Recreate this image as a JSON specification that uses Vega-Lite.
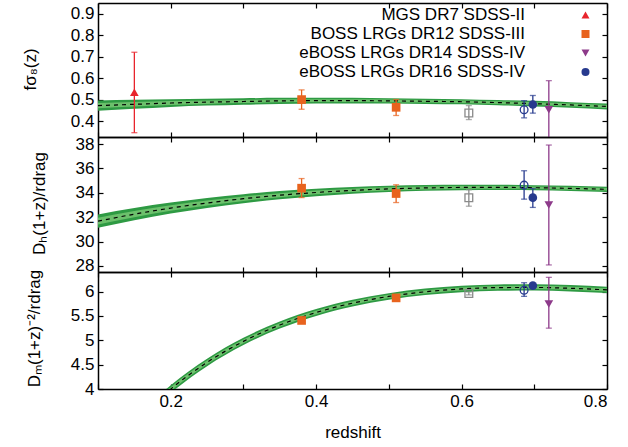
{
  "$schema": "https://vega.github.io/schema/vega-lite/v6.json",
  "autosize": {"type": "pad"},
  "padding": {"left": 21, "top": 2, "right": 5, "bottom": 5},
  "background": "white",
  "bounds": "flush",
  "spacing": 0,
  "config": {
    "font": "Liberation Sans",
    "view": {"stroke": null},
    "axis": {"grid": false, "domainColor": "black", "domainWidth": 1.5, "tickColor": "black", "tickWidth": 1.2, "tickSize": -5,
      "labelFontSize": 17, "labelColor": "black", "labelFont": "Liberation Sans", "titleFontSize": 17, "titleFontWeight": "normal", "titleColor": "black", "titleFont": "Liberation Sans", "labelPadding": 9}
  },
  "resolve": {"scale": {"color": "independent", "shape": "independent", "x": "independent", "y": "independent"}, "legend": {"color": "independent", "shape": "independent"}},
  "datasets": {
    "c1": [
      {"z": 0.10, "mid": 0.473, "lo2": 0.449, "hi2": 0.497, "lo1": 0.461, "hi1": 0.485},
      {"z": 0.15, "mid": 0.479, "lo2": 0.458, "hi2": 0.500, "lo1": 0.4685, "hi1": 0.4895},
      {"z": 0.20, "mid": 0.485, "lo2": 0.467, "hi2": 0.503, "lo1": 0.476, "hi1": 0.494},
      {"z": 0.25, "mid": 0.489, "lo2": 0.473, "hi2": 0.505, "lo1": 0.481, "hi1": 0.497},
      {"z": 0.30, "mid": 0.492, "lo2": 0.477, "hi2": 0.507, "lo1": 0.4845, "hi1": 0.4995},
      {"z": 0.35, "mid": 0.495, "lo2": 0.481, "hi2": 0.509, "lo1": 0.488, "hi1": 0.502},
      {"z": 0.40, "mid": 0.496, "lo2": 0.483, "hi2": 0.509, "lo1": 0.4895, "hi1": 0.5025},
      {"z": 0.45, "mid": 0.496, "lo2": 0.483, "hi2": 0.509, "lo1": 0.4895, "hi1": 0.5025},
      {"z": 0.50, "mid": 0.495, "lo2": 0.483, "hi2": 0.507, "lo1": 0.489, "hi1": 0.501},
      {"z": 0.55, "mid": 0.493, "lo2": 0.481, "hi2": 0.505, "lo1": 0.487, "hi1": 0.499},
      {"z": 0.60, "mid": 0.491, "lo2": 0.479, "hi2": 0.503, "lo1": 0.485, "hi1": 0.497},
      {"z": 0.65, "mid": 0.487, "lo2": 0.475, "hi2": 0.499, "lo1": 0.481, "hi1": 0.493},
      {"z": 0.70, "mid": 0.482, "lo2": 0.469, "hi2": 0.495, "lo1": 0.4755, "hi1": 0.4885},
      {"z": 0.75, "mid": 0.476, "lo2": 0.463, "hi2": 0.489, "lo1": 0.4695, "hi1": 0.4825},
      {"z": 0.80, "mid": 0.469, "lo2": 0.455, "hi2": 0.483, "lo1": 0.462, "hi1": 0.476}
    ],
    "c2": [
      {"z": 0.10, "mid": 31.672, "lo2": 31.122, "hi2": 32.222, "lo1": 31.397, "hi1": 31.947},
      {"z": 0.15, "mid": 32.249, "lo2": 31.749, "hi2": 32.749, "lo1": 31.999, "hi1": 32.499},
      {"z": 0.20, "mid": 32.745, "lo2": 32.295, "hi2": 33.195, "lo1": 32.52, "hi1": 32.97},
      {"z": 0.25, "mid": 33.166, "lo2": 32.756, "hi2": 33.576, "lo1": 32.961, "hi1": 33.371},
      {"z": 0.30, "mid": 33.516, "lo2": 33.146, "hi2": 33.886, "lo1": 33.331, "hi1": 33.701},
      {"z": 0.35, "mid": 33.801, "lo2": 33.461, "hi2": 34.141, "lo1": 33.631, "hi1": 33.971},
      {"z": 0.40, "mid": 34.027, "lo2": 33.717, "hi2": 34.337, "lo1": 33.872, "hi1": 34.182},
      {"z": 0.45, "mid": 34.198, "lo2": 33.918, "hi2": 34.478, "lo1": 34.058, "hi1": 34.338},
      {"z": 0.50, "mid": 34.321, "lo2": 34.061, "hi2": 34.581, "lo1": 34.191, "hi1": 34.451},
      {"z": 0.55, "mid": 34.399, "lo2": 34.159, "hi2": 34.639, "lo1": 34.279, "hi1": 34.519},
      {"z": 0.60, "mid": 34.439, "lo2": 34.209, "hi2": 34.669, "lo1": 34.324, "hi1": 34.554},
      {"z": 0.65, "mid": 34.443, "lo2": 34.223, "hi2": 34.663, "lo1": 34.333, "hi1": 34.553},
      {"z": 0.70, "mid": 34.417, "lo2": 34.207, "hi2": 34.627, "lo1": 34.312, "hi1": 34.522},
      {"z": 0.75, "mid": 34.363, "lo2": 34.153, "hi2": 34.573, "lo1": 34.258, "hi1": 34.468},
      {"z": 0.80, "mid": 34.286, "lo2": 34.076, "hi2": 34.496, "lo1": 34.181, "hi1": 34.391}
    ],
    "c3": [
      {"z": 0.10, "mid": 2.440, "lo2": 2.35, "hi2": 2.53, "lo1": 2.395, "hi1": 2.485},
      {"z": 0.15, "mid": 3.307, "lo2": 3.222, "hi2": 3.392, "lo1": 3.2645, "hi1": 3.3495},
      {"z": 0.20, "mid": 3.998, "lo2": 3.918, "hi2": 4.078, "lo1": 3.958, "hi1": 4.038},
      {"z": 0.25, "mid": 4.546, "lo2": 4.469, "hi2": 4.623, "lo1": 4.5075, "hi1": 4.5845},
      {"z": 0.30, "mid": 4.977, "lo2": 4.903, "hi2": 5.051, "lo1": 4.94, "hi1": 5.014},
      {"z": 0.35, "mid": 5.312, "lo2": 5.240, "hi2": 5.384, "lo1": 5.276, "hi1": 5.348},
      {"z": 0.40, "mid": 5.569, "lo2": 5.499, "hi2": 5.639, "lo1": 5.534, "hi1": 5.604},
      {"z": 0.45, "mid": 5.761, "lo2": 5.693, "hi2": 5.829, "lo1": 5.727, "hi1": 5.795},
      {"z": 0.50, "mid": 5.899, "lo2": 5.832, "hi2": 5.966, "lo1": 5.8655, "hi1": 5.9325},
      {"z": 0.55, "mid": 5.994, "lo2": 5.928, "hi2": 6.060, "lo1": 5.961, "hi1": 6.027},
      {"z": 0.60, "mid": 6.052, "lo2": 5.987, "hi2": 6.117, "lo1": 6.0195, "hi1": 6.0845},
      {"z": 0.65, "mid": 6.080, "lo2": 6.015, "hi2": 6.145, "lo1": 6.0475, "hi1": 6.1125},
      {"z": 0.70, "mid": 6.083, "lo2": 6.018, "hi2": 6.148, "lo1": 6.0505, "hi1": 6.1155},
      {"z": 0.75, "mid": 6.066, "lo2": 6.001, "hi2": 6.131, "lo1": 6.0335, "hi1": 6.0985},
      {"z": 0.80, "mid": 6.033, "lo2": 5.968, "hi2": 6.098, "lo1": 6.0005, "hi1": 6.0655}
    ],
    "p1": [
      {"series": "MGS DR7 SDSS-II", "z": 0.15, "v": 0.535, "lo": 0.347, "hi": 0.721},
      {"series": "BOSS LRGs DR12 SDSS-III", "z": 0.38, "v": 0.501, "lo": 0.456, "hi": 0.546},
      {"series": "BOSS LRGs DR12 SDSS-III", "z": 0.51, "v": 0.465, "lo": 0.427, "hi": 0.501},
      {"series": "eBOSS LRGs DR14 SDSS-IV", "z": 0.72, "v": 0.454, "lo": 0.32, "hi": 0.589},
      {"series": "eBOSS LRGs DR16 SDSS-IV", "z": 0.698, "v": 0.478, "lo": 0.438, "hi": 0.520},
      {"series": "BOSS LRGs DR12 z=0.61 (open)", "z": 0.61, "v": 0.439, "lo": 0.408, "hi": 0.473},
      {"series": "eBOSS LRGs DR16 (open)", "z": 0.686, "v": 0.454, "lo": 0.416, "hi": 0.496}
    ],
    "p2": [
      {"series": "BOSS LRGs DR12 SDSS-III", "z": 0.38, "v": 34.38, "lo": 33.61, "hi": 35.17},
      {"series": "BOSS LRGs DR12 SDSS-III", "z": 0.51, "v": 33.94, "lo": 33.2, "hi": 34.66},
      {"series": "eBOSS LRGs DR14 SDSS-IV", "z": 0.72, "v": 33.0, "lo": 28.08, "hi": 37.92},
      {"series": "eBOSS LRGs DR16 SDSS-IV", "z": 0.698, "v": 33.6, "lo": 32.8, "hi": 34.35},
      {"series": "BOSS LRGs DR12 z=0.61 (open)", "z": 0.61, "v": 33.6, "lo": 32.9, "hi": 34.25},
      {"series": "eBOSS LRGs DR16 (open)", "z": 0.686, "v": 34.63, "lo": 33.48, "hi": 35.81}
    ],
    "p3": [
      {"series": "BOSS LRGs DR12 SDSS-III", "z": 0.38, "v": 5.406, "lo": 5.38, "hi": 5.43},
      {"series": "BOSS LRGs DR12 SDSS-III", "z": 0.51, "v": 5.869, "lo": 5.845, "hi": 5.895},
      {"series": "eBOSS LRGs DR14 SDSS-IV", "z": 0.72, "v": 5.746, "lo": 5.248, "hi": 6.29},
      {"series": "eBOSS LRGs DR16 SDSS-IV", "z": 0.698, "v": 6.12, "lo": 6.08, "hi": 6.16},
      {"series": "BOSS LRGs DR12 z=0.61 (open)", "z": 0.61, "v": 5.96, "lo": 5.93, "hi": 5.99},
      {"series": "eBOSS LRGs DR16 (open)", "z": 0.686, "v": 6.027, "lo": 5.90, "hi": 6.18}
    ]
  },
  "vconcat": [
    {
      "width": 509, "height": 134,
      "resolve": {"axis": {"x": "independent", "y": "independent"}},
      "layer": [
        {"data": {"name": "c1"}, "mark": {"type": "area", "clip": true, "interpolate": "monotone", "color": "#2e9a43"},
         "encoding": {
           "x": {"field": "z", "type": "quantitative", "scale": {"domain": [0.1, 0.8], "nice": false, "zero": false},
                 "axis": {"orient": "bottom", "values": [0.1,0.2,0.3,0.4,0.5,0.6,0.7,0.8], "labels": false, "title": null}},
           "y": {"field": "lo2", "type": "quantitative", "scale": {"domain": [0.327, 0.95], "nice": false, "zero": false},
                 "axis": {"orient": "left", "values": [0.4,0.5,0.6,0.7,0.8,0.9], "format": ".1f", "title": "fσ₈(z)", "titleX": -68, "titleY": 66, "titleAngle": 270, "titleAlign": "center", "titleBaseline": "middle"}},
           "y2": {"field": "hi2"}}},
        {"data": {"name": "c1"}, "mark": {"type": "area", "clip": true, "interpolate": "monotone", "color": "#6cc06c"},
         "encoding": {
           "x": {"field": "z", "type": "quantitative", "scale": {"domain": [0.1, 0.8], "nice": false, "zero": false}, "axis": null},
           "y": {"field": "lo1", "type": "quantitative", "scale": {"domain": [0.327, 0.95], "nice": false, "zero": false}, "axis": null},
           "y2": {"field": "hi1"}}},
        {"data": {"name": "c1"}, "mark": {"type": "line", "clip": true, "interpolate": "monotone", "color": "black", "strokeWidth": 1.2, "strokeDash": [4, 4]},
         "encoding": {
           "x": {"field": "z", "type": "quantitative", "scale": {"domain": [0.1, 0.8], "nice": false, "zero": false},
                 "axis": {"orient": "top", "values": [0.1,0.2,0.3,0.4,0.5,0.6,0.7,0.8], "labels": false, "title": null}},
           "y": {"field": "mid", "type": "quantitative", "scale": {"domain": [0.327, 0.95], "nice": false, "zero": false},
                 "axis": {"orient": "right", "values": [0.4,0.5,0.6,0.7,0.8,0.9], "labels": false, "title": null}}}},
        {"data": {"name": "p1"}, "mark": {"type": "rule", "clip": true, "strokeWidth": 1.3},
         "encoding": {
           "x": {"field": "z", "type": "quantitative", "scale": {"domain": [0.1, 0.8], "nice": false, "zero": false}, "axis": null},
           "y": {"field": "lo", "type": "quantitative", "scale": {"domain": [0.327, 0.95], "nice": false, "zero": false}, "axis": null},
           "y2": {"field": "hi"},
           "color": {"field": "series", "type": "nominal",
             "scale": {"domain": ["MGS DR7 SDSS-II", "BOSS LRGs DR12 SDSS-III", "eBOSS LRGs DR14 SDSS-IV", "eBOSS LRGs DR16 SDSS-IV", "BOSS LRGs DR12 z=0.61 (open)", "eBOSS LRGs DR16 (open)"],
                       "range": ["#e8242c", "#e8631e", "#8d3a8a", "#273a8e", "#8a8a8a", "#273a8e"]},
             "legend": {"orient": "none", "legendX": 479, "legendY": 3.5, "title": null,
               "values": ["MGS DR7 SDSS-II", "BOSS LRGs DR12 SDSS-III", "eBOSS LRGs DR14 SDSS-IV", "eBOSS LRGs DR16 SDSS-IV"],
               "labelFontSize": 17, "labelFont": "Liberation Sans", "labelColor": "black", "labelAlign": "right", "labelOffset": -69, "labelLimit": 400,
               "symbolSize": 64, "symbolStrokeWidth": 0, "symbolOpacity": 1, "rowPadding": 1,
               "encode": {"symbols": {"update": {
                 "shape": {"signal": "(datum.value == 'MGS DR7 SDSS-II' ? 'M-1.1,0.8L1.1,0.8L0,-1.1Z' : datum.value == 'BOSS LRGs DR12 SDSS-III' ? 'M-1,-1H1V1H-1Z' : datum.value == 'eBOSS LRGs DR14 SDSS-IV' ? 'M-1.1,-0.8L1.1,-0.8L0,1.1Z' : 'M-1.2,0A1.2,1.2,0,1,0,1.2,0A1.2,1.2,0,1,0,-1.2,0Z') + 'M-6,-0.16H6V0.16H-6ZM-6.16,-0.7H-5.84V0.7H-6.16ZM5.84,-0.7H6.16V0.7H5.84Z'"}}}}}}}},
        {"data": {"name": "p1"}, "mark": {"type": "tick", "orient": "horizontal", "size": 6, "thickness": 1.3, "clip": true},
         "encoding": {
           "x": {"field": "z", "type": "quantitative", "scale": {"domain": [0.1, 0.8], "nice": false, "zero": false}, "axis": null},
           "y": {"field": "lo", "type": "quantitative", "scale": {"domain": [0.327, 0.95], "nice": false, "zero": false}, "axis": null},
           "color": {"field": "series", "type": "nominal"}}},
        {"data": {"name": "p1"}, "mark": {"type": "tick", "orient": "horizontal", "size": 6, "thickness": 1.3, "clip": true},
         "encoding": {
           "x": {"field": "z", "type": "quantitative", "scale": {"domain": [0.1, 0.8], "nice": false, "zero": false}, "axis": null},
           "y": {"field": "hi", "type": "quantitative", "scale": {"domain": [0.327, 0.95], "nice": false, "zero": false}, "axis": null},
           "color": {"field": "series", "type": "nominal"}}},
        {"data": {"name": "p1"},
         "transform": [{"filter": {"field": "series", "oneOf": ["BOSS LRGs DR12 z=0.61 (open)", "eBOSS LRGs DR16 (open)"]}}],
         "mark": {"type": "point", "filled": false, "size": 60, "strokeWidth": 1.3, "opacity": 1, "clip": true},
         "encoding": {
           "x": {"field": "z", "type": "quantitative", "scale": {"domain": [0.1, 0.8], "nice": false, "zero": false}, "axis": null},
           "y": {"field": "v", "type": "quantitative", "scale": {"domain": [0.327, 0.95], "nice": false, "zero": false}, "axis": null},
           "color": {"field": "series", "type": "nominal"},
           "shape": {"field": "series", "type": "nominal", "legend": null,
             "scale": {"domain": ["MGS DR7 SDSS-II", "BOSS LRGs DR12 SDSS-III", "eBOSS LRGs DR14 SDSS-IV", "eBOSS LRGs DR16 SDSS-IV", "BOSS LRGs DR12 z=0.61 (open)", "eBOSS LRGs DR16 (open)"],
                       "range": ["triangle-up", "square", "triangle-down", "circle", "square", "circle"]}}}},
        {"data": {"name": "p1"},
         "transform": [{"filter": {"not": {"field": "series", "oneOf": ["BOSS LRGs DR12 z=0.61 (open)", "eBOSS LRGs DR16 (open)"]}}}],
         "mark": {"type": "point", "filled": true, "size": 75, "opacity": 1, "clip": true},
         "encoding": {
           "x": {"field": "z", "type": "quantitative", "scale": {"domain": [0.1, 0.8], "nice": false, "zero": false}, "axis": null},
           "y": {"field": "v", "type": "quantitative", "scale": {"domain": [0.327, 0.95], "nice": false, "zero": false}, "axis": null},
           "color": {"field": "series", "type": "nominal"},
           "shape": {"field": "series", "type": "nominal", "legend": null}}}
      ]
    },
    {
      "width": 509, "height": 135,
      "resolve": {"axis": {"x": "independent", "y": "independent"}},
      "layer": [
        {"data": {"name": "c2"}, "mark": {"type": "area", "clip": true, "interpolate": "monotone", "color": "#2e9a43"},
         "encoding": {
           "x": {"field": "z", "type": "quantitative", "scale": {"domain": [0.1, 0.8], "nice": false, "zero": false},
                 "axis": {"orient": "bottom", "values": [0.1,0.2,0.3,0.4,0.5,0.6,0.7,0.8], "labels": false, "title": null}},
           "y": {"field": "lo2", "type": "quantitative", "scale": {"domain": [27.5, 38.58], "nice": false, "zero": false},
                 "axis": {"orient": "left", "values": [28,30,32,34,36,38], "format": "d", "title": "Dₕ(1+z)/rdrag", "titleX": -59, "titleY": 66, "titleAngle": 270, "titleAlign": "center", "titleBaseline": "middle"}},
           "y2": {"field": "hi2"}}},
        {"data": {"name": "c2"}, "mark": {"type": "area", "clip": true, "interpolate": "monotone", "color": "#6cc06c"},
         "encoding": {
           "x": {"field": "z", "type": "quantitative", "scale": {"domain": [0.1, 0.8], "nice": false, "zero": false}, "axis": null},
           "y": {"field": "lo1", "type": "quantitative", "scale": {"domain": [27.5, 38.58], "nice": false, "zero": false}, "axis": null},
           "y2": {"field": "hi1"}}},
        {"data": {"name": "c2"}, "mark": {"type": "line", "clip": true, "interpolate": "monotone", "color": "black", "strokeWidth": 1.2, "strokeDash": [4, 4]},
         "encoding": {
           "x": {"field": "z", "type": "quantitative", "scale": {"domain": [0.1, 0.8], "nice": false, "zero": false},
                 "axis": {"orient": "top", "values": [0.1,0.2,0.3,0.4,0.5,0.6,0.7,0.8], "labels": false, "title": null}},
           "y": {"field": "mid", "type": "quantitative", "scale": {"domain": [27.5, 38.58], "nice": false, "zero": false},
                 "axis": {"orient": "right", "values": [28,30,32,34,36,38], "labels": false, "title": null}}}},
        {"data": {"name": "p2"}, "mark": {"type": "rule", "clip": true, "strokeWidth": 1.3},
         "encoding": {
           "x": {"field": "z", "type": "quantitative", "scale": {"domain": [0.1, 0.8], "nice": false, "zero": false}, "axis": null},
           "y": {"field": "lo", "type": "quantitative", "scale": {"domain": [27.5, 38.58], "nice": false, "zero": false}, "axis": null},
           "y2": {"field": "hi"},
           "color": {"field": "series", "type": "nominal", "legend": null,
             "scale": {"domain": ["MGS DR7 SDSS-II", "BOSS LRGs DR12 SDSS-III", "eBOSS LRGs DR14 SDSS-IV", "eBOSS LRGs DR16 SDSS-IV", "BOSS LRGs DR12 z=0.61 (open)", "eBOSS LRGs DR16 (open)"],
                       "range": ["#e8242c", "#e8631e", "#8d3a8a", "#273a8e", "#8a8a8a", "#273a8e"]}}}},
        {"data": {"name": "p2"}, "mark": {"type": "tick", "orient": "horizontal", "size": 6, "thickness": 1.3, "clip": true},
         "encoding": {
           "x": {"field": "z", "type": "quantitative", "scale": {"domain": [0.1, 0.8], "nice": false, "zero": false}, "axis": null},
           "y": {"field": "lo", "type": "quantitative", "scale": {"domain": [27.5, 38.58], "nice": false, "zero": false}, "axis": null},
           "color": {"field": "series", "type": "nominal", "legend": null}}},
        {"data": {"name": "p2"}, "mark": {"type": "tick", "orient": "horizontal", "size": 6, "thickness": 1.3, "clip": true},
         "encoding": {
           "x": {"field": "z", "type": "quantitative", "scale": {"domain": [0.1, 0.8], "nice": false, "zero": false}, "axis": null},
           "y": {"field": "hi", "type": "quantitative", "scale": {"domain": [27.5, 38.58], "nice": false, "zero": false}, "axis": null},
           "color": {"field": "series", "type": "nominal", "legend": null}}},
        {"data": {"name": "p2"},
         "transform": [{"filter": {"field": "series", "oneOf": ["BOSS LRGs DR12 z=0.61 (open)", "eBOSS LRGs DR16 (open)"]}}],
         "mark": {"type": "point", "filled": false, "size": 60, "strokeWidth": 1.3, "opacity": 1, "clip": true},
         "encoding": {
           "x": {"field": "z", "type": "quantitative", "scale": {"domain": [0.1, 0.8], "nice": false, "zero": false}, "axis": null},
           "y": {"field": "v", "type": "quantitative", "scale": {"domain": [27.5, 38.58], "nice": false, "zero": false}, "axis": null},
           "color": {"field": "series", "type": "nominal", "legend": null},
           "shape": {"field": "series", "type": "nominal", "legend": null,
             "scale": {"domain": ["MGS DR7 SDSS-II", "BOSS LRGs DR12 SDSS-III", "eBOSS LRGs DR14 SDSS-IV", "eBOSS LRGs DR16 SDSS-IV", "BOSS LRGs DR12 z=0.61 (open)", "eBOSS LRGs DR16 (open)"],
                       "range": ["triangle-up", "square", "triangle-down", "circle", "square", "circle"]}}}},
        {"data": {"name": "p2"},
         "transform": [{"filter": {"not": {"field": "series", "oneOf": ["BOSS LRGs DR12 z=0.61 (open)", "eBOSS LRGs DR16 (open)"]}}}],
         "mark": {"type": "point", "filled": true, "size": 75, "opacity": 1, "clip": true},
         "encoding": {
           "x": {"field": "z", "type": "quantitative", "scale": {"domain": [0.1, 0.8], "nice": false, "zero": false}, "axis": null},
           "y": {"field": "v", "type": "quantitative", "scale": {"domain": [27.5, 38.58], "nice": false, "zero": false}, "axis": null},
           "color": {"field": "series", "type": "nominal", "legend": null},
           "shape": {"field": "series", "type": "nominal", "legend": null}}}
      ]
    },
    {
      "width": 509, "height": 117,
      "resolve": {"axis": {"x": "independent", "y": "independent"}},
      "layer": [
        {"data": {"name": "c3"}, "mark": {"type": "area", "clip": true, "interpolate": "monotone", "color": "#2e9a43"},
         "encoding": {
           "x": {"field": "z", "type": "quantitative", "scale": {"domain": [0.1, 0.8], "nice": false, "zero": false},
                 "axis": {"orient": "bottom", "values": [0.1,0.2,0.3,0.4,0.5,0.6,0.7,0.8], "labelExpr": "abs(datum.value*10 - round(datum.value*5)*2) < 0.01 ? format(datum.value, '.1f') : ''", "title": "redshift", "titlePadding": 15}},
           "y": {"field": "lo2", "type": "quantitative", "scale": {"domain": [4, 6.4], "nice": false, "zero": false},
                 "axis": {"orient": "left", "values": [4,4.5,5,5.5,6], "format": "~g", "title": "Dₘ(1+z)⁻²/rdrag", "titleX": -64, "titleY": 56, "titleAngle": 270, "titleAlign": "center", "titleBaseline": "middle"}},
           "y2": {"field": "hi2"}}},
        {"data": {"name": "c3"}, "mark": {"type": "area", "clip": true, "interpolate": "monotone", "color": "#6cc06c"},
         "encoding": {
           "x": {"field": "z", "type": "quantitative", "scale": {"domain": [0.1, 0.8], "nice": false, "zero": false}, "axis": null},
           "y": {"field": "lo1", "type": "quantitative", "scale": {"domain": [4, 6.4], "nice": false, "zero": false}, "axis": null},
           "y2": {"field": "hi1"}}},
        {"data": {"name": "c3"}, "mark": {"type": "line", "clip": true, "interpolate": "monotone", "color": "black", "strokeWidth": 1.2, "strokeDash": [4, 4]},
         "encoding": {
           "x": {"field": "z", "type": "quantitative", "scale": {"domain": [0.1, 0.8], "nice": false, "zero": false},
                 "axis": {"orient": "top", "values": [0.1,0.2,0.3,0.4,0.5,0.6,0.7,0.8], "labels": false, "title": null}},
           "y": {"field": "mid", "type": "quantitative", "scale": {"domain": [4, 6.4], "nice": false, "zero": false},
                 "axis": {"orient": "right", "values": [4,4.5,5,5.5,6], "labels": false, "title": null}}}},
        {"data": {"name": "p3"}, "mark": {"type": "rule", "clip": true, "strokeWidth": 1.3},
         "encoding": {
           "x": {"field": "z", "type": "quantitative", "scale": {"domain": [0.1, 0.8], "nice": false, "zero": false}, "axis": null},
           "y": {"field": "lo", "type": "quantitative", "scale": {"domain": [4, 6.4], "nice": false, "zero": false}, "axis": null},
           "y2": {"field": "hi"},
           "color": {"field": "series", "type": "nominal", "legend": null,
             "scale": {"domain": ["MGS DR7 SDSS-II", "BOSS LRGs DR12 SDSS-III", "eBOSS LRGs DR14 SDSS-IV", "eBOSS LRGs DR16 SDSS-IV", "BOSS LRGs DR12 z=0.61 (open)", "eBOSS LRGs DR16 (open)"],
                       "range": ["#e8242c", "#e8631e", "#8d3a8a", "#273a8e", "#8a8a8a", "#273a8e"]}}}},
        {"data": {"name": "p3"}, "mark": {"type": "tick", "orient": "horizontal", "size": 6, "thickness": 1.3, "clip": true},
         "encoding": {
           "x": {"field": "z", "type": "quantitative", "scale": {"domain": [0.1, 0.8], "nice": false, "zero": false}, "axis": null},
           "y": {"field": "lo", "type": "quantitative", "scale": {"domain": [4, 6.4], "nice": false, "zero": false}, "axis": null},
           "color": {"field": "series", "type": "nominal", "legend": null}}},
        {"data": {"name": "p3"}, "mark": {"type": "tick", "orient": "horizontal", "size": 6, "thickness": 1.3, "clip": true},
         "encoding": {
           "x": {"field": "z", "type": "quantitative", "scale": {"domain": [0.1, 0.8], "nice": false, "zero": false}, "axis": null},
           "y": {"field": "hi", "type": "quantitative", "scale": {"domain": [4, 6.4], "nice": false, "zero": false}, "axis": null},
           "color": {"field": "series", "type": "nominal", "legend": null}}},
        {"data": {"name": "p3"},
         "transform": [{"filter": {"field": "series", "oneOf": ["BOSS LRGs DR12 z=0.61 (open)", "eBOSS LRGs DR16 (open)"]}}],
         "mark": {"type": "point", "filled": false, "size": 60, "strokeWidth": 1.3, "opacity": 1, "clip": true},
         "encoding": {
           "x": {"field": "z", "type": "quantitative", "scale": {"domain": [0.1, 0.8], "nice": false, "zero": false}, "axis": null},
           "y": {"field": "v", "type": "quantitative", "scale": {"domain": [4, 6.4], "nice": false, "zero": false}, "axis": null},
           "color": {"field": "series", "type": "nominal", "legend": null},
           "shape": {"field": "series", "type": "nominal", "legend": null,
             "scale": {"domain": ["MGS DR7 SDSS-II", "BOSS LRGs DR12 SDSS-III", "eBOSS LRGs DR14 SDSS-IV", "eBOSS LRGs DR16 SDSS-IV", "BOSS LRGs DR12 z=0.61 (open)", "eBOSS LRGs DR16 (open)"],
                       "range": ["triangle-up", "square", "triangle-down", "circle", "square", "circle"]}}}},
        {"data": {"name": "p3"},
         "transform": [{"filter": {"not": {"field": "series", "oneOf": ["BOSS LRGs DR12 z=0.61 (open)", "eBOSS LRGs DR16 (open)"]}}}],
         "mark": {"type": "point", "filled": true, "size": 75, "opacity": 1, "clip": true},
         "encoding": {
           "x": {"field": "z", "type": "quantitative", "scale": {"domain": [0.1, 0.8], "nice": false, "zero": false}, "axis": null},
           "y": {"field": "v", "type": "quantitative", "scale": {"domain": [4, 6.4], "nice": false, "zero": false}, "axis": null},
           "color": {"field": "series", "type": "nominal", "legend": null},
           "shape": {"field": "series", "type": "nominal", "legend": null}}}
      ]
    }
  ]
}
